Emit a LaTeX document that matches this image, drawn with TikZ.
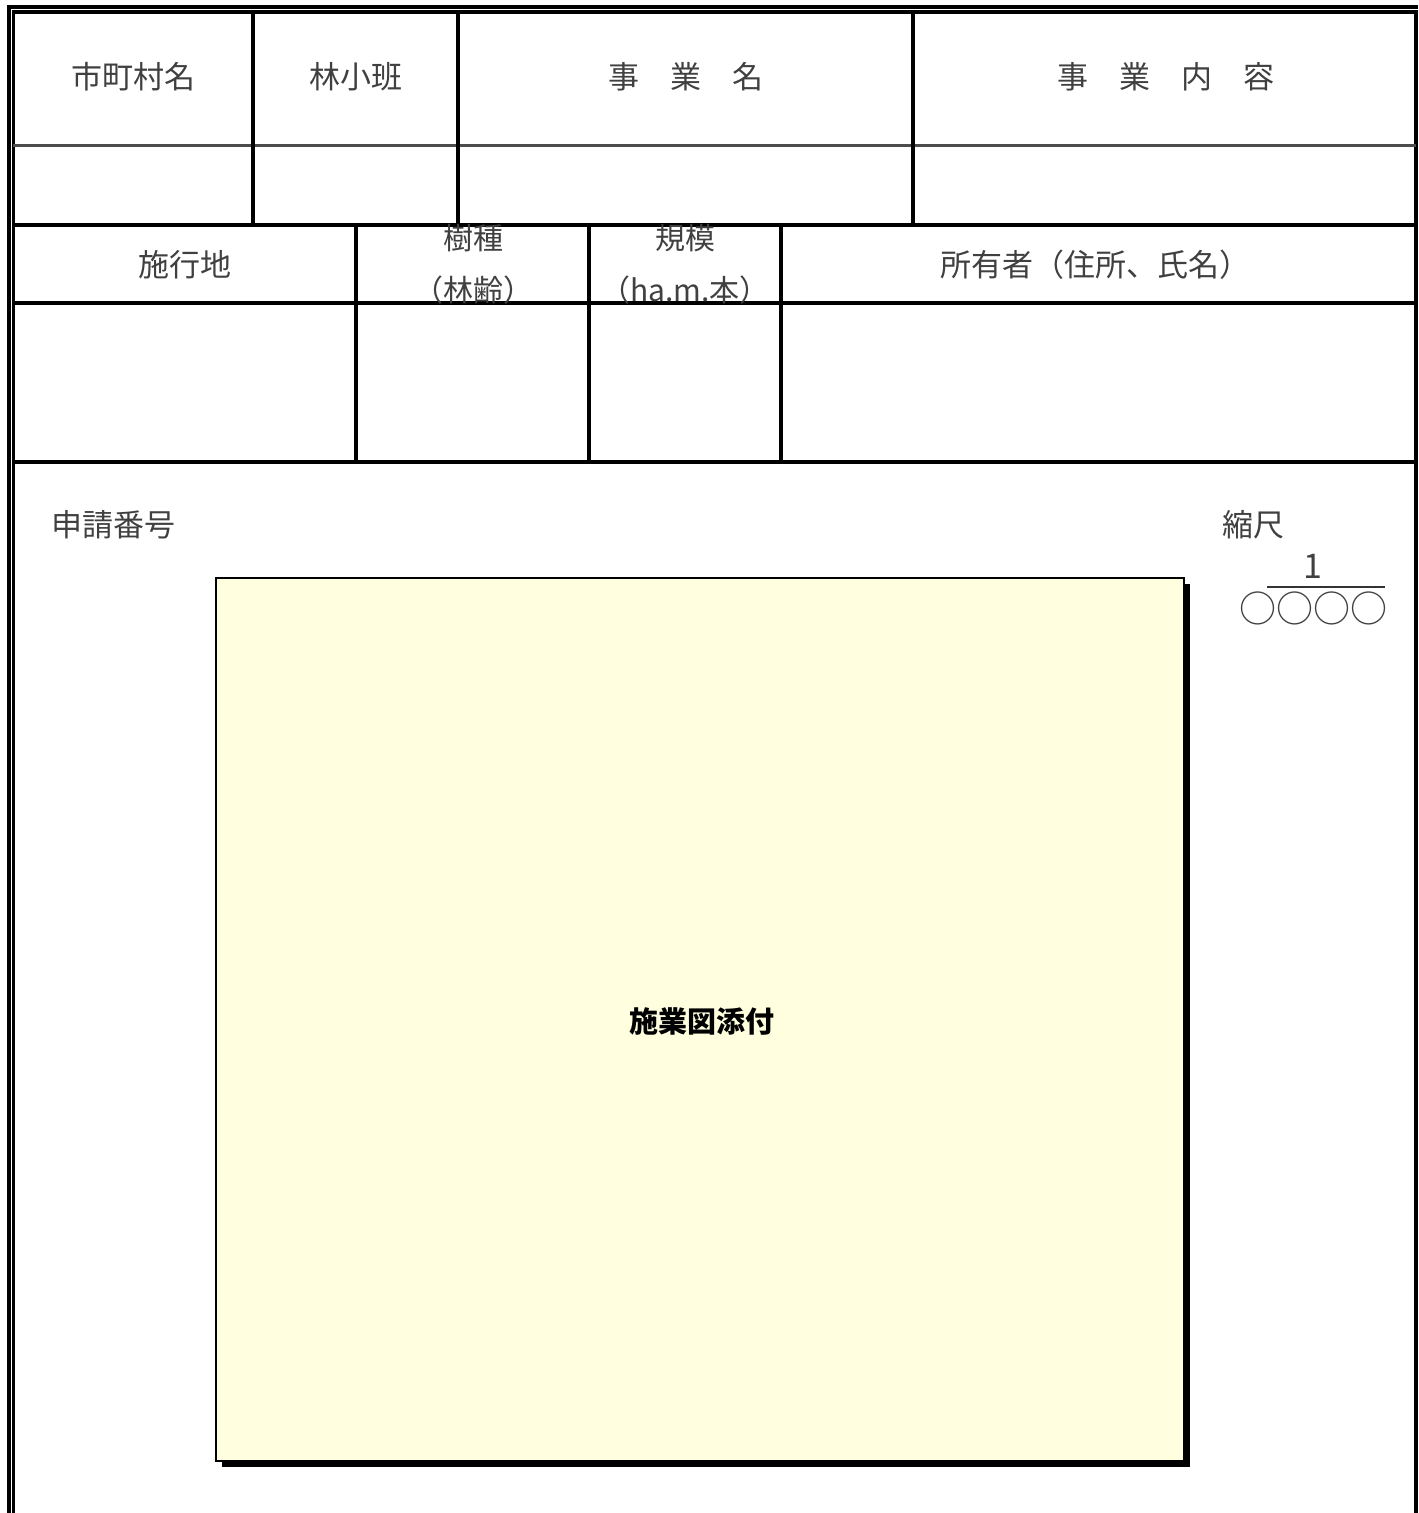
\documentclass[tikz,border=0pt]{standalone}
\usepackage{fontspec}
\setmainfont{Noto Sans CJK JP}
\usetikzlibrary{positioning}
\definecolor{mapyellow}{HTML}{FFFFE0}
\tikzset{
  rule/.style={line width=1.8pt},
  label/.style={font=\fontsize{15.5}{18}\selectfont, text=black!75, inner sep=0pt},
  small/.style={font=\fontsize{15}{17}\selectfont, text=black!75, inner sep=0pt, align=center}
}
\begin{document}
\begin{tikzpicture}[x=0.5pt,y=-0.5pt]
       \useasboundingbox (0,0) rectangle (1418,1513);
       \draw [rule] (9,1513) -- (9,7) -- (1418,7);
       \draw [rule] (13.5,1513) -- (13.5,12) -- (1416,12) -- (1416,1513);
       \draw [line width=1.5pt, black!70] (13,146) -- (1416,146);
       \draw [rule] (13,225) -- (1416,225) (13,303) -- (1416,303) (13,462) -- (1416,462);
       \draw [rule] (253,12) -- (253,225) (458,12) -- (458,225) (913,12) -- (913,225);
       \draw [rule] (356,225) -- (356,462) (589,225) -- (589,462) (781,225) -- (781,462);
       \node[label] (city) at (133,77) {市町村名};
       \node[label] (stand) at (356,77) {林小班};
       \node[label] (proj) at (686,77) {事　業　名};
       \node[label] (work) at (1166,77) {事　業　内　容};
       \node[label] (site) at (185,265) {施行地};
       \node[small] (tree) at (473,264) {樹種\\[9pt]（林齢）};
       \node[small] (size) at (685,264) {規模\\[9pt]（ha.m.本）};
       \node[label] (owner) at (1095,265) {所有者（住所、氏名）};
       \node[label] (appno) at (113,525) {申請番号};
       \node[label] (scale) at (1253,525) {縮尺};
       \node[label, font=\fontsize{17}{19}\selectfont] (num) at (1313,566) {1};
       \node[label, font=\fontsize{18.5}{20}\selectfont] (den) at (1313,608) {○○○○};
       \draw [line width=1pt, black!80] (1267,587) -- (1385,587);
       \fill [black] (222,584) rectangle (1190,1467);
       \draw [line width=1.2pt, fill=mapyellow] (216,578) rectangle (1184,1461);
       \node[font=\bfseries\fontsize{14.5}{17}\selectfont] (map) at (702,1021) {施業図添付};
\end{tikzpicture}
\end{document}
